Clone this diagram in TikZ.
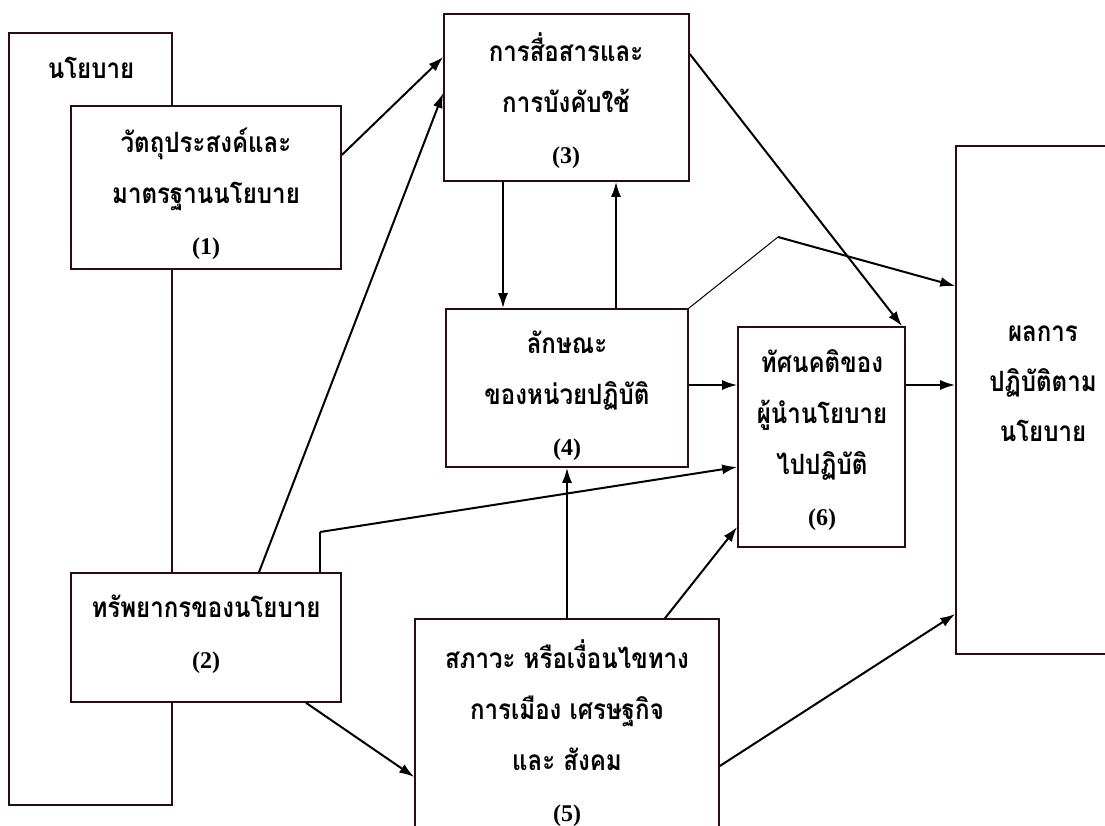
\documentclass[tikz,border=0pt]{standalone}
\usepackage{fontspec}
\setmainfont{Liberation Serif}
\newfontfamily\thaifont[Script=Thai,FakeStretch=0.86]{Loma}
\usetikzlibrary{arrows.meta}
\definecolor{edge}{RGB}{45,10,25}
\newcommand\boxno[1]{{\rmfamily\fontsize{24}{51}\selectfont #1}}
\begin{document}
\begin{tikzpicture}[x=1pt,y=-1pt,
  frame/.style={draw=edge,line width=1.6pt,fill=white,rectangle,inner sep=0pt},
  label/.style={align=center,font=\thaifont\bfseries\fontsize{28}{51}\selectfont,inner sep=0pt},
  conn/.style={line width=2pt,-{Latex[length=15pt,width=10pt]}},
  plain/.style={line width=2pt},
  thin/.style={line width=1pt}]
\clip (0,0) rectangle (1105,825);
\fill[white] (0,0) rectangle (1105,825);

% policy frame and its two parts
\node[frame,minimum width=163pt,minimum height=772pt] (policy) at (90.5,419) {};
\node[label] (policyname) at (91,68) {นโยบาย};
\node[frame,minimum width=270pt,minimum height=163pt] (b1) at (206,187.5) {};
\node[frame,minimum width=270pt,minimum height=129pt] (b2) at (206,637.5) {};

% remaining boxes
\node[frame,minimum width=245pt,minimum height=167pt] (b3) at (566.5,97.5) {};
\node[frame,minimum width=242pt,minimum height=158pt] (b4) at (567,388) {};
\node[frame,minimum width=167pt,minimum height=220pt] (b6) at (821.5,437) {};
\node[frame,minimum width=164pt,minimum height=508pt] (b7) at (1038,400) {};
\node[frame,minimum width=304pt,minimum height=221pt] (b5) at (567,729.5) {};

% box texts
\node[label] (t1) at (206,194) {วัตถุประสงค์และ\\มาตรฐานนโยบาย\\\boxno{(1)}};
\node[label] (t2) at (206,634) {ทรัพยากรของนโยบาย\\\boxno{(2)}};
\node[label] (t3) at (566,101) {การสื่อสารและ\\การบังคับใช้\\\boxno{(3)}};
\node[label] (t4) at (567,396) {ลักษณะ\\ของหน่วยปฏิบัติ\\\boxno{(4)}};
\node[label] (t6) at (822,440) {ทัศนคติของ\\ผู้นำนโยบาย\\ไปปฏิบัติ\\\boxno{(6)}};
\node[label,font=\thaifont\bfseries\fontsize{28}{50}\selectfont] (t7) at (1043,384) {ผลการ\\ปฏิบัติตาม\\นโยบาย};
\node[label] (t5) at (567,733) {สภาวะ หรือเงื่อนไขทาง\\การเมือง เศรษฐกิจ\\และ สังคม\\\boxno{(5)}};

% connectors
\draw[conn] (b1.east |- 0,155) -- (b3.west |- 0,57);
\draw[conn] (b2.north -| 259,0) -- (b3.west |- 0,93);
\draw[conn] (b3.south -| 503,0) -- (b4.north -| 503,0);
\draw[conn] (b4.north -| 616,0) -- (b3.south -| 616,0);
\draw[conn] (b3.east |- 0,54) -- (b6.north -| 902,0);
\coordinate (bend) at (778,237);
\draw[thin] (b4.north east) -- (bend);
\draw[conn] (bend) -- (b7.west |- 0,286);
\draw[conn] (b4.east |- 0,385) -- (b6.west |- 0,385);
\draw[conn] (b6.east |- 0,385) -- (b7.west |- 0,385);
\coordinate (step2) at (320,532);
\draw[plain] (b2.north -| step2) -- (step2);
\draw[conn] (step2) -- (b6.west |- 0,467);
\draw[conn] (b5.north -| 567,0) -- (b4.south -| 567,0);
\draw[conn] (b5.north -| 665,0) -- (b6.west |- 0,527);
\draw[conn] (b5.east |- 0,766) -- (b7.west |- 0,614);
\draw[conn] (b2.south -| 306,0) -- (b5.west |- 0,777);
\end{tikzpicture}
\end{document}
